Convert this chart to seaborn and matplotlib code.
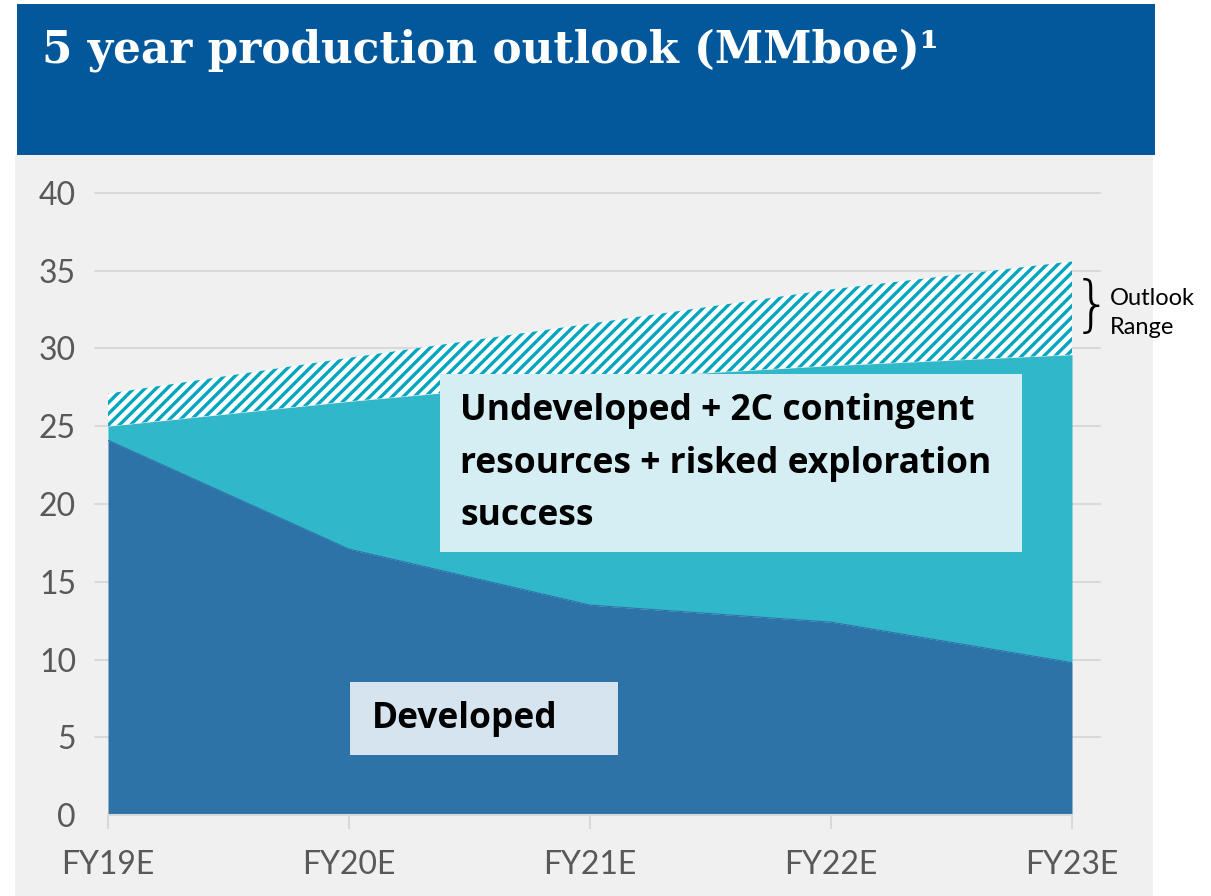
import numpy as np
import pandas as pd
import matplotlib.pyplot as plt
import seaborn as sns
from matplotlib.patches import Rectangle

# Data (MMboe)
years = ["FY19E", "FY20E", "FY21E", "FY22E", "FY23E"]
developed = [24.1, 17.1, 13.5, 12.4, 9.8]
undeveloped_top = [25.0, 26.6, 28.0, 28.9, 29.6]
outlook_top = [27.1, 29.4, 31.6, 33.8, 35.6]
y_ticks = [0, 5, 10, 15, 20, 25, 30, 35, 40]

df = pd.DataFrame({
    "year": years,
    "developed": developed,
    "undeveloped": undeveloped_top,
    "outlook": outlook_top,
})
df["x"] = np.arange(len(years))

sns.set_theme(style="white")
plt.rcParams["font.family"] = ["Lato", "DejaVu Sans"]
plt.rcParams["hatch.linewidth"] = 2.4

dark_blue = "#2e73a8"
teal = "#31b7ca"
hatch_teal = "#00a6bf"
title_blue = "#03589c"
bg_gray = "#f0f0f0"
grid_gray = "#d9d9d9"
tick_gray = "#595959"
label_font = ["Open Sans", "DejaVu Sans"]

fig = plt.figure(figsize=(12.11, 8.96), dpi=100)
fig.patch.set_facecolor("white")

# background panel and title bar
fig.patches.append(Rectangle((15 / 1211, 0), 1138 / 1211, (896 - 155) / 896,
                             transform=fig.transFigure, facecolor=bg_gray,
                             edgecolor="none", zorder=-2))
fig.patches.append(Rectangle((17 / 1211, (896 - 155) / 896), 1138 / 1211, 151 / 896,
                             transform=fig.transFigure, facecolor=title_blue,
                             edgecolor="none", zorder=-2))
fig.text(42 / 1211, 1 - 50 / 896, "5 year production outlook (MMboe)\u00b9",
         color="white", fontsize=31.5, fontweight="bold",
         family=["DejaVu Serif"], va="center", ha="left")

ax = fig.add_axes([108 / 1211, 81 / 896, 964 / 1211, 622 / 896])
ax.set_facecolor("none")
ax.set_zorder(1)

# gridlines reaching a bit past the plot area
for t in y_ticks[1:]:
    ax.plot([-0.055, 4.115], [t, t], color=grid_gray, lw=1.5, clip_on=False, zorder=0)

ax.fill_between(df["x"], 0, df["developed"], color=dark_blue, lw=0, zorder=2)
ax.fill_between(df["x"], df["developed"], df["undeveloped"], color=teal, lw=0, zorder=2)
ax.fill_between(df["x"], df["undeveloped"], df["outlook"], facecolor="white",
                edgecolor=hatch_teal, hatch="///", lw=0, zorder=2)
sns.lineplot(data=df, x="x", y="developed", color=dark_blue, lw=0.8, ax=ax, zorder=3)

ax.set_xlim(0, 4)
ax.set_ylim(0, 40)
ax.set_xticks(df["x"])
ax.set_xticklabels(years)
ax.set_yticks(y_ticks)
ax.set_xlabel("")
ax.set_ylabel("")
for s in ["top", "right", "left"]:
    ax.spines[s].set_visible(False)
ax.spines["bottom"].set_color(grid_gray)
ax.spines["bottom"].set_linewidth(1.5)
ax.tick_params(axis="x", colors=tick_gray, labelsize=23, length=10, width=1.5,
               color=grid_gray, pad=15, bottom=True)
ax.tick_params(axis="y", colors=tick_gray, labelsize=23, length=0, pad=23)
for lbl in ax.get_yticklabels():
    lbl.set_horizontalalignment("right")

# annotation boxes
ax.add_patch(Rectangle((1.378, 16.9), 2.415, 11.45, facecolor="#d5eef3",
                       edgecolor="none", zorder=4))
ax.text(1.461, 22.6, "Undeveloped + 2C contingent\nresources + risked exploration\nsuccess",
        fontsize=25.5, fontweight="bold", color="black", ha="left", va="center",
        family=label_font, linespacing=1.6, zorder=5)
ax.add_patch(Rectangle((1.004, 3.86), 1.112, 4.69, facecolor="#d6e4ef",
                       edgecolor="none", zorder=4))
ax.text(1.095, 6.2, "Developed", fontsize=25.5, fontweight="bold", color="black",
        ha="left", va="center", family=label_font, zorder=5)

# outlook range bracket
fig.text(1073 / 1211, 1 - 308 / 896, "}", fontsize=44, color="black",
         family=["DejaVu Sans"], fontweight="light", va="center", ha="left")
fig.text(1110 / 1211, 1 - 313 / 896, "Outlook\nRange", fontsize=17, color="black",
         va="center", ha="left", linespacing=1.45)

fig.savefig("out.png", dpi=100)
